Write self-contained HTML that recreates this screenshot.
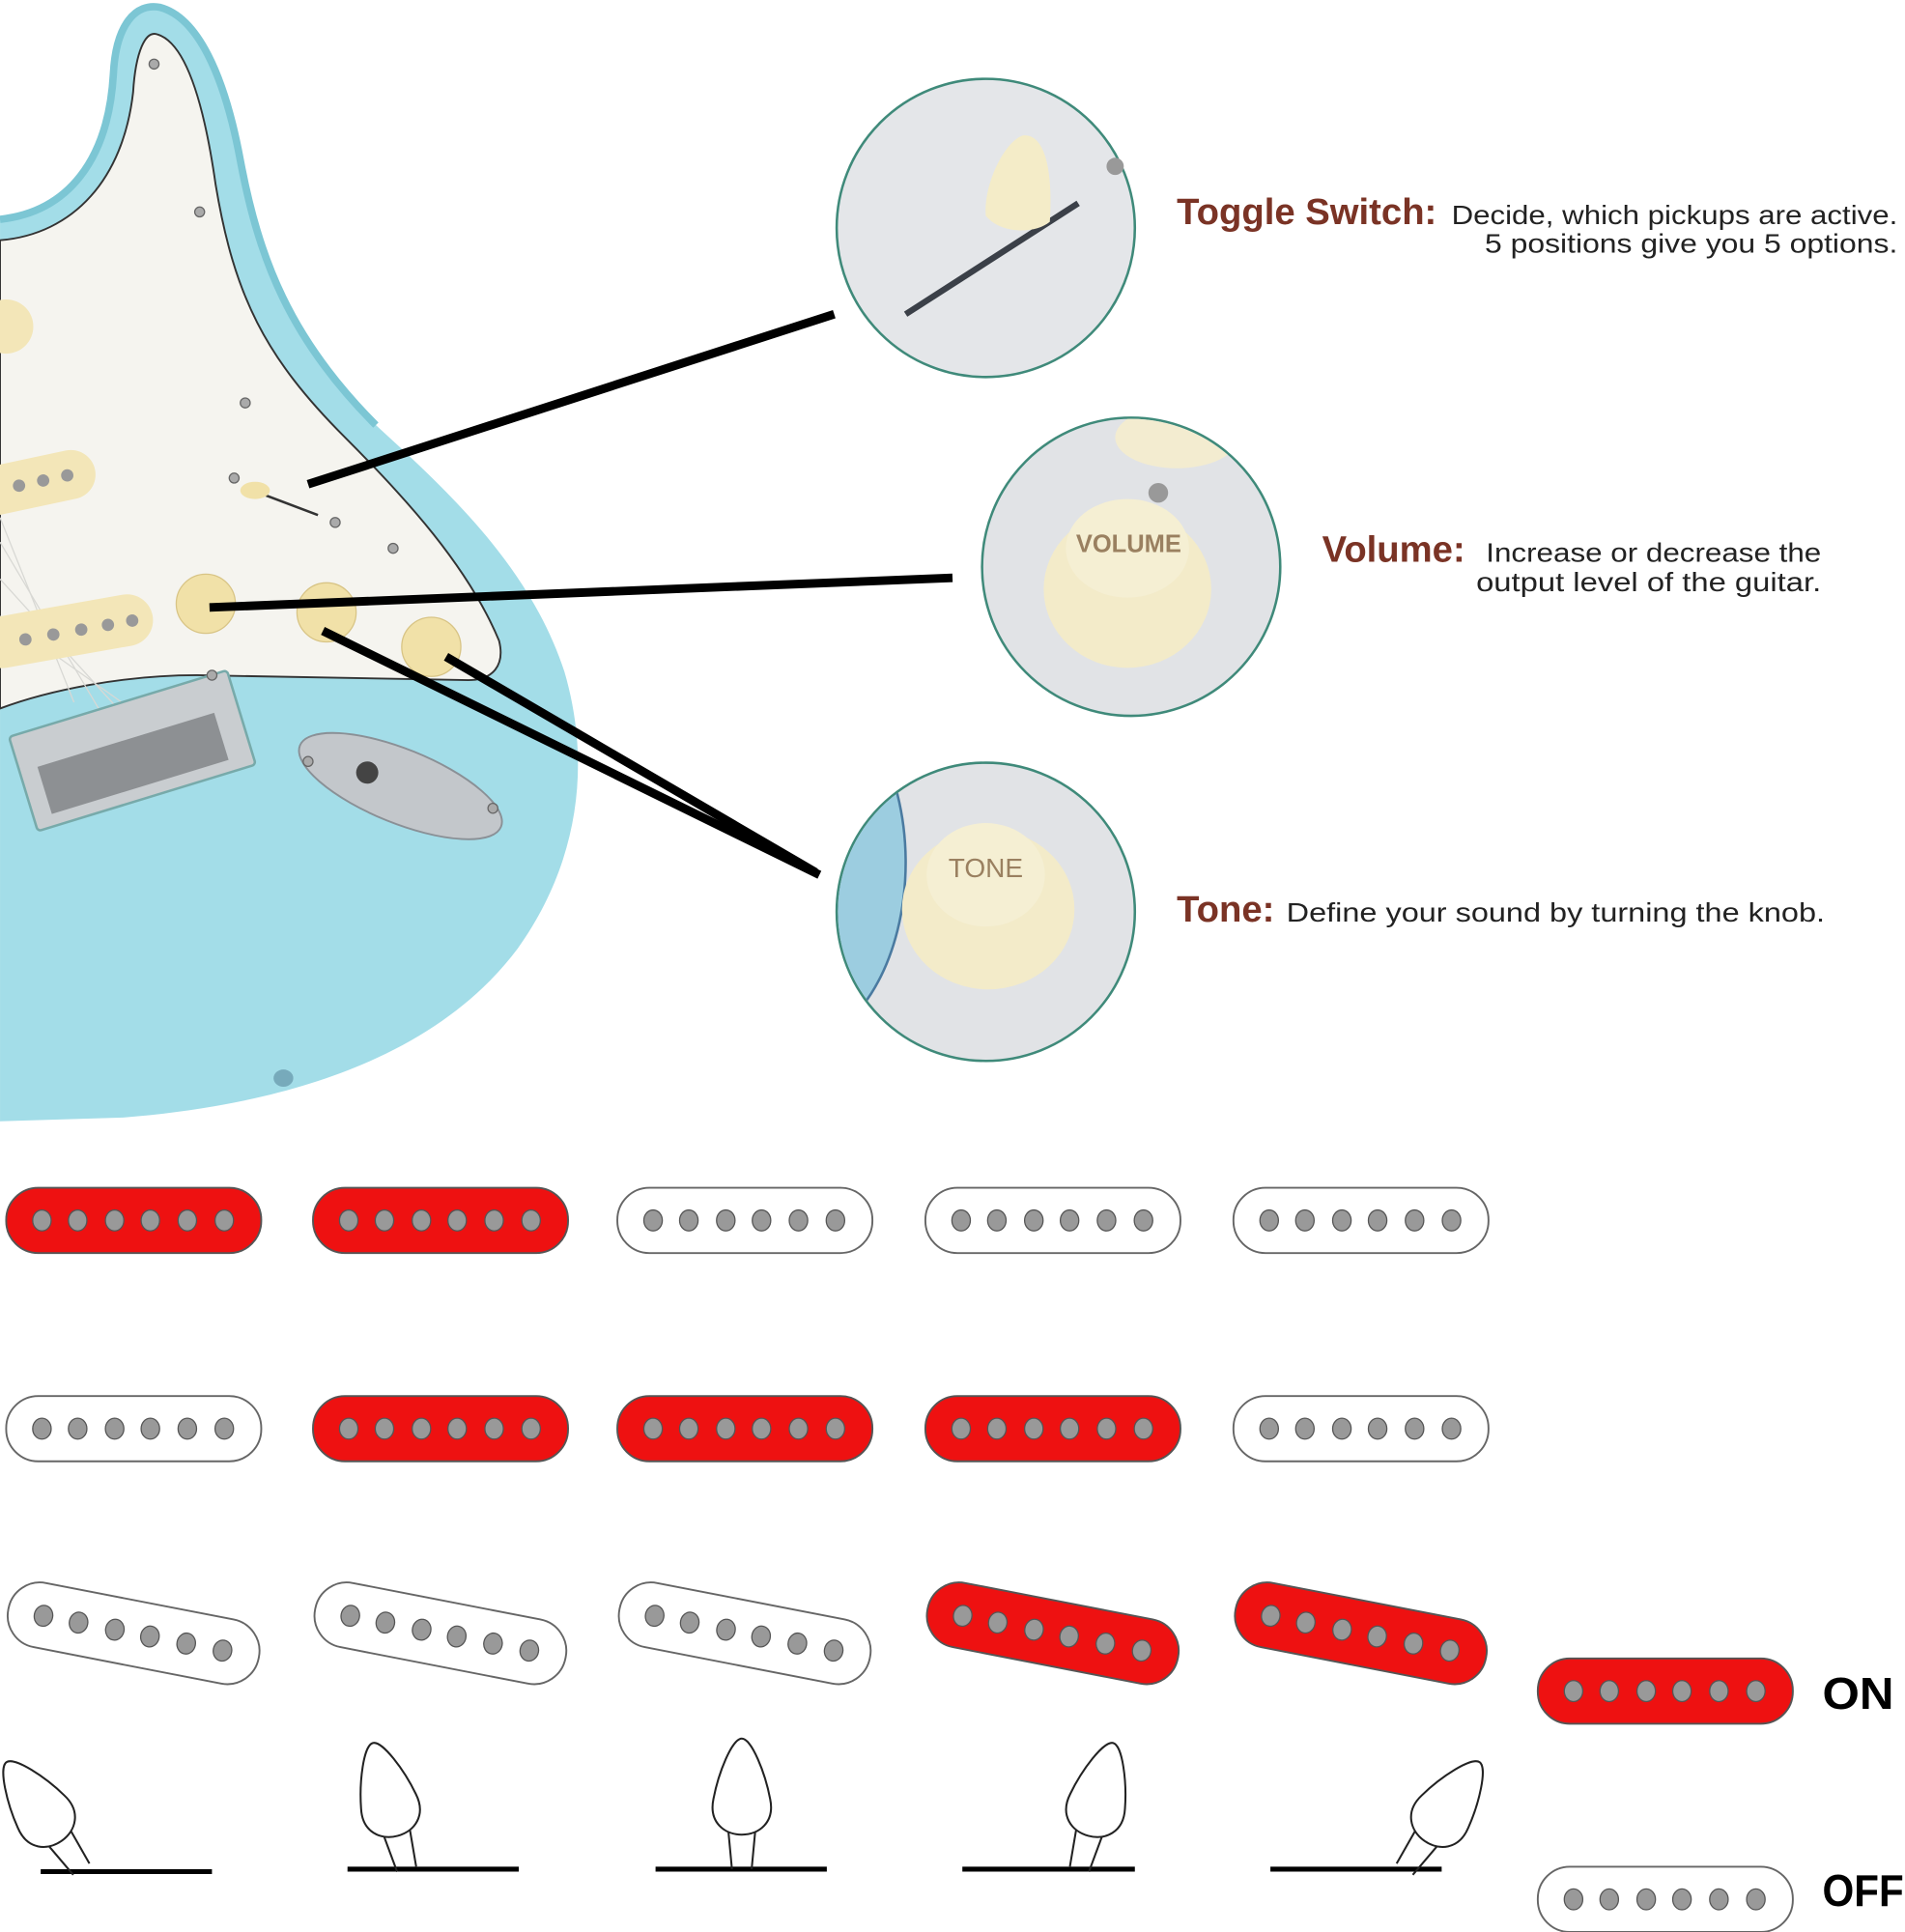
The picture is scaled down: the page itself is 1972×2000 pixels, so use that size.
<!DOCTYPE html>
<html><head><meta charset="utf-8"><style>
html,body{margin:0;padding:0;background:#fff;}
svg{display:block;}
</style></head><body>
<svg width="1972" height="2000" viewBox="0 0 1546 1568" xmlns="http://www.w3.org/2000/svg" font-family="Liberation Sans, sans-serif">
<defs>
<g id="dots">
<ellipse cx="33" cy="26.5" rx="7.5" ry="8.5" fill="#999" stroke="#555" stroke-width="1"/>
<ellipse cx="62" cy="26.5" rx="7.5" ry="8.5" fill="#999" stroke="#555" stroke-width="1"/>
<ellipse cx="92" cy="26.5" rx="7.5" ry="8.5" fill="#999" stroke="#555" stroke-width="1"/>
<ellipse cx="121" cy="26.5" rx="7.5" ry="8.5" fill="#999" stroke="#555" stroke-width="1"/>
<ellipse cx="151" cy="26.5" rx="7.5" ry="8.5" fill="#999" stroke="#555" stroke-width="1"/>
<ellipse cx="181" cy="26.5" rx="7.5" ry="8.5" fill="#999" stroke="#555" stroke-width="1"/>
</g>
<g id="pr"><rect x="0" y="0" width="207" height="53" rx="26" fill="#ee1111" stroke="#555" stroke-width="1.5"/><use href="#dots" x="-4"/></g>
<g id="pw"><rect x="0" y="0" width="207" height="53" rx="26" fill="#fff" stroke="#666" stroke-width="1.5"/><use href="#dots" x="-4"/></g>
<g id="lev" fill="#fff" stroke="#222" stroke-width="1.6">
<line x1="-11" y1="-32" x2="-8" y2="0"/><line x1="11" y1="-32" x2="8" y2="0"/>
<path d="M0,-106 C-8,-106 -19,-78 -23,-57 C-27,-38 -14,-28 0,-28 C14,-28 27,-38 23,-57 C19,-78 8,-106 0,-106 Z"/>
</g>
</defs>

<!-- Guitar body -->
<path d="M0,178 C55,172 88,130 92,60 C94,20 110,2 130,6 C160,14 182,60 195,130 C210,210 235,275 305,345 C365,400 430,460 458,545 C480,620 470,700 420,770 C360,850 250,895 100,907 L0,910 Z" fill="#a3dde8"/>
<path d="M0,178 C55,172 88,130 92,60 C94,20 110,2 130,6 C160,14 182,60 195,130 C210,210 235,275 305,345" fill="none" stroke="#7cc6d4" stroke-width="6"/>
<!-- pickguard -->
<path d="M0,195 C60,190 100,145 108,75 C110,42 118,24 128,28 C150,35 165,80 175,150 C190,240 215,290 280,355 C330,405 380,460 405,520 C410,540 400,552 380,552 L160,548 C100,548 40,560 0,575 Z" fill="#f5f4ef" stroke="#333" stroke-width="1.5"/>
<!-- strings -->
<g stroke="#d8d8d4" stroke-width="1"><line x1="0" y1="420" x2="60" y2="570"/><line x1="0" y1="440" x2="80" y2="575"/><line x1="0" y1="470" x2="100" y2="580"/><line x1="0" y1="500" x2="120" y2="585"/></g>
<!-- pickups on guitar -->
<ellipse cx="5" cy="265" rx="22" ry="22" fill="#f3e6b8"/>
<g transform="rotate(-12 35 390)"><rect x="-40" y="370" width="118" height="40" rx="20" fill="#f3e6b8"/>
<circle cx="15" cy="390" r="5" fill="#999"/><circle cx="35" cy="390" r="5" fill="#999"/><circle cx="55" cy="390" r="5" fill="#999"/></g>
<g transform="rotate(-10 60 512)"><rect x="-20" y="490" width="145" height="42" rx="21" fill="#f3e6b8"/>
<circle cx="20" cy="512" r="5" fill="#999"/><circle cx="43" cy="512" r="5" fill="#999"/><circle cx="66" cy="512" r="5" fill="#999"/><circle cx="88" cy="512" r="5" fill="#999"/><circle cx="108" cy="512" r="5" fill="#999"/></g>
<!-- bridge -->
<g transform="rotate(-17 105 610)"><rect x="15" y="570" width="185" height="80" rx="3" fill="#c9cdd0" stroke="#7aa" stroke-width="2"/>
<rect x="30" y="600" width="150" height="40" fill="#8d9093"/></g>
<!-- jack -->
<ellipse cx="325" cy="638" rx="88" ry="30" transform="rotate(22 325 638)" fill="#c3c7cb" stroke="#8a9096" stroke-width="1.5"/>
<circle cx="298" cy="627" r="9" fill="#444"/>
<!-- knobs -->
<circle cx="167" cy="490" r="24" fill="#f1e1a8" stroke="#d8c485"/>
<circle cx="265" cy="497" r="24" fill="#f1e1a8" stroke="#d8c485"/>
<circle cx="350" cy="525" r="24" fill="#f1e1a8" stroke="#d8c485"/>
<!-- toggle -->
<line x1="205" y1="398" x2="258" y2="418" stroke="#333" stroke-width="2"/>
<ellipse cx="207" cy="398" rx="12" ry="7" fill="#f1e1a8"/>
<!-- screws -->
<g fill="#aaa" stroke="#666"><circle cx="125" cy="52" r="4"/><circle cx="162" cy="172" r="4"/><circle cx="199" cy="327" r="4"/><circle cx="272" cy="424" r="4"/><circle cx="319" cy="445" r="4"/><circle cx="190" cy="388" r="4"/><circle cx="172" cy="548" r="4"/><circle cx="400" cy="656" r="4"/><circle cx="250" cy="618" r="4"/></g>
<ellipse cx="230" cy="875" rx="8" ry="7" fill="#7ab"/>

<!-- connector lines -->
<g stroke="#000" stroke-width="7" stroke-linecap="butt">
<line x1="250" y1="393" x2="677" y2="255"/>
<line x1="170" y1="493" x2="773" y2="469"/>
<line x1="262" y1="512" x2="665" y2="710"/>
<line x1="362" y1="533" x2="662" y2="708"/>
</g>

<!-- circles -->
<circle cx="800" cy="185" r="121" fill="#e4e6e9" stroke="#3f8a7a" stroke-width="2"/>
<line x1="735" y1="255" x2="875" y2="165" stroke="#3b4048" stroke-width="5"/>
<path d="M800,175 C798,150 815,115 830,110 C845,108 855,130 852,180 C840,190 812,190 800,175 Z" fill="#f4ecc8"/>
<circle cx="905" cy="135" r="7" fill="#999"/>

<circle cx="918" cy="460" r="121" fill="#e1e3e6" stroke="#3f8a7a" stroke-width="2"/>
<clipPath id="c2"><circle cx="918" cy="460" r="120"/></clipPath>
<g clip-path="url(#c2)">
<ellipse cx="955" cy="355" rx="50" ry="25" fill="#f3ecd0"/>
<circle cx="940" cy="400" r="8" fill="#999"/>
<ellipse cx="915" cy="478" rx="68" ry="64" fill="#f3ebc9"/>
<ellipse cx="915" cy="445" rx="50" ry="40" fill="#f5efd3"/>
<text x="916" y="448" font-size="20" font-weight="bold" fill="#9a8060" text-anchor="middle">VOLUME</text>
</g>

<circle cx="800" cy="740" r="121" fill="#e1e3e6" stroke="#3f8a7a" stroke-width="2"/>
<clipPath id="c3"><circle cx="800" cy="740" r="120"/></clipPath>
<g clip-path="url(#c3)">
<ellipse cx="640" cy="700" rx="95" ry="150" fill="#9ccde0" stroke="#4a7aa0" stroke-width="2"/>
<ellipse cx="802" cy="738" rx="70" ry="65" fill="#f3ebc9"/>
<ellipse cx="800" cy="710" rx="48" ry="42" fill="#f5efd3"/>
<text x="800" y="712" font-size="22" fill="#9a8060" text-anchor="middle">TONE</text>
</g>

<!-- labels -->
<text x="955" y="182" font-size="30" font-weight="bold" fill="#7a3325">Toggle Switch:</text>
<text x="1540" y="182" font-size="22" fill="#222" text-anchor="end" textLength="362" lengthAdjust="spacingAndGlyphs">Decide, which pickups are active.</text>
<text x="1540" y="205" font-size="22" fill="#222" text-anchor="end" textLength="335" lengthAdjust="spacingAndGlyphs">5 positions give you 5 options.</text>
<text x="1073" y="456" font-size="30" font-weight="bold" fill="#7a3325">Volume:</text>
<text x="1478" y="456" font-size="22" fill="#222" text-anchor="end" textLength="272" lengthAdjust="spacingAndGlyphs">Increase or decrease the</text>
<text x="1478" y="480" font-size="22" fill="#222" text-anchor="end" textLength="280" lengthAdjust="spacingAndGlyphs">output level of the guitar.</text>
<text x="955" y="748" font-size="30" font-weight="bold" fill="#7a3325">Tone:</text>
<text x="1044" y="748" font-size="22" fill="#222" textLength="437" lengthAdjust="spacingAndGlyphs">Define your sound by turning the knob.</text>

<!-- pickup grid -->
<use href="#pr" x="5" y="964"/><use href="#pr" x="254" y="964"/><use href="#pw" x="501" y="964"/><use href="#pw" x="751" y="964"/><use href="#pw" x="1001" y="964"/>
<use href="#pw" x="5" y="1133"/><use href="#pr" x="254" y="1133"/><use href="#pr" x="501" y="1133"/><use href="#pr" x="751" y="1133"/><use href="#pw" x="1001" y="1133"/>
<g transform="translate(5,1299) rotate(11 103 26)"><use href="#pw"/></g>
<g transform="translate(254,1299) rotate(11 103 26)"><use href="#pw"/></g>
<g transform="translate(501,1299) rotate(11 103 26)"><use href="#pw"/></g>
<g transform="translate(751,1299) rotate(11 103 26)"><use href="#pr"/></g>
<g transform="translate(1001,1299) rotate(11 103 26)"><use href="#pr"/></g>
<use href="#pr" x="1248" y="1346"/>
<use href="#pw" x="1248" y="1515"/>
<text x="1479" y="1387" font-size="36" font-weight="bold" fill="#000" textLength="58" lengthAdjust="spacingAndGlyphs">ON</text>
<text x="1479" y="1547" font-size="36" font-weight="bold" fill="#000" textLength="66" lengthAdjust="spacingAndGlyphs">OFF</text>

<!-- toggle levers -->
<g stroke="#000" stroke-width="4">
<line x1="33" y1="1519" x2="172" y2="1519"/><line x1="282" y1="1517" x2="421" y2="1517"/><line x1="532" y1="1517" x2="671" y2="1517"/><line x1="781" y1="1517" x2="921" y2="1517"/><line x1="1031" y1="1517" x2="1170" y2="1517"/>
</g>
<use href="#lev" transform="translate(66,1517) rotate(-35)"/>
<use href="#lev" transform="translate(330,1517) rotate(-15)"/>
<use href="#lev" transform="translate(602,1517)"/>
<use href="#lev" transform="translate(876,1517) rotate(15)"/>
<use href="#lev" transform="translate(1140,1517) rotate(35)"/>
</svg>
</body></html>
